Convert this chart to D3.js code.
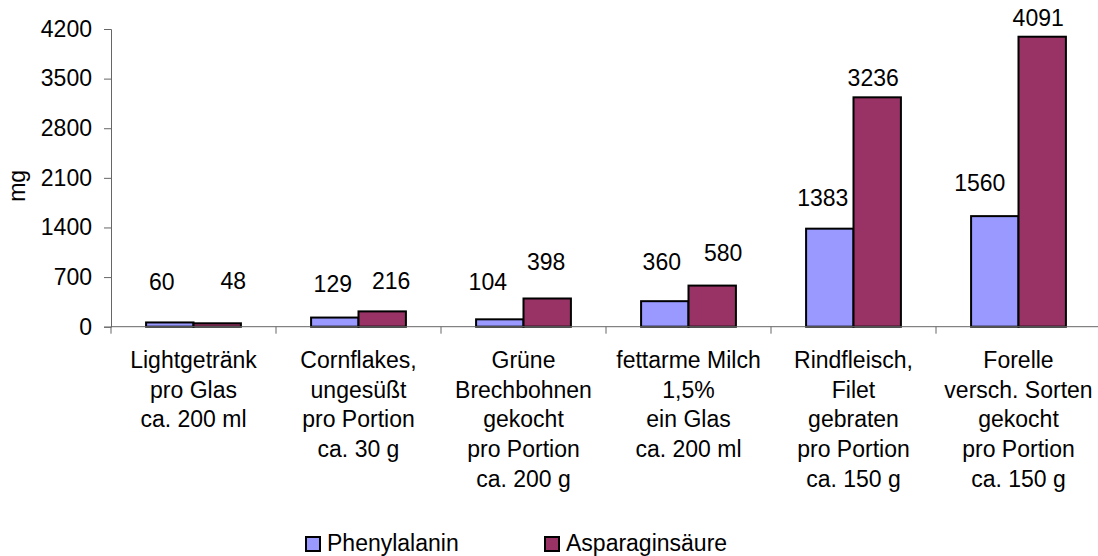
<!DOCTYPE html>
<html>
<head>
<meta charset="utf-8">
<script src="https://cdn.jsdelivr.net/npm/d3@7"></script>
<style>
  body { margin: 0; background: #fff; }
  text { font-family: "Liberation Sans", Arial, sans-serif; fill: #000; }
</style>
</head>
<body>
<svg id="chart" width="1098" height="556"></svg>
<script>
// data
const categories = [
  ["Lightgetränk", "pro Glas", "ca. 200 ml"],
  ["Cornflakes,", "ungesüßt", "pro Portion", "ca. 30 g"],
  ["Grüne", "Brechbohnen", "gekocht", "pro Portion", "ca. 200 g"],
  ["fettarme Milch", "1,5%", "ein Glas", "ca. 200 ml"],
  ["Rindfleisch,", "Filet", "gebraten", "pro Portion", "ca. 150 g"],
  ["Forelle", "versch. Sorten", "gekocht", "pro Portion", "ca. 150 g"]
];
const seriesNames = ["Phenylalanin", "Asparaginsäure"];
const phenylalanin = [60, 129, 104, 360, 1383, 1560];
const asparaginsaeure = [48, 216, 398, 580, 3236, 4091];
const yTicks = [0, 700, 1400, 2100, 2800, 3500, 4200];

// label nudges (the labels in the original were moved by hand)
const labelLift = [[32, 34], [26, 22], [29, 28], [31, 25], [23, 11], [25.5, 10.5]];
const labelShift = [[-8, 16], [-2, 9], [-12, -1], [-3, 11], [-7, -4], [-15, -4]];

const colors = ["#9999FF", "#993366"];
const values = [phenylalanin, asparaginsaeure];

const svg = d3.select("#chart");
const plotLeft = 111, plotRight = 1101, plotTop = 29, plotBottom = 326.7;
const fontSize = 23;

const x0 = d3.scaleBand()
  .domain(d3.range(categories.length))
  .range([plotLeft, plotRight])
  .paddingInner(0).paddingOuter(0);
const x1 = d3.scaleBand()
  .domain(d3.range(seriesNames.length))
  .range([0, x0.bandwidth()])
  .paddingInner(0).paddingOuter(0.74);
const y = d3.scaleLinear().domain([0, 4200]).range([plotBottom, plotTop]);

// y axis
const yAxis = svg.append("g")
  .attr("transform", `translate(${plotLeft},0)`)
  .call(d3.axisLeft(y).tickValues(yTicks).tickFormat(d3.format("d")).tickSize(7).tickPadding(12));
yAxis.select(".domain").attr("stroke", "#666");
yAxis.selectAll(".tick line").attr("stroke", "#666");
yAxis.selectAll(".tick text")
  .style("font-size", fontSize + "px")
  .style("font-family", '"Liberation Sans", Arial, sans-serif')
  .attr("fill", "#000");

svg.append("text")
  .attr("transform", `translate(25,${(plotTop + plotBottom) / 2 + 8}) rotate(-90)`)
  .attr("text-anchor", "middle")
  .style("font-size", fontSize + "px")
  .text("mg");

// bars
const groups = svg.append("g").selectAll("g")
  .data(categories)
  .join("g")
  .attr("transform", (d, i) => `translate(${x0(i)},0)`);

groups.selectAll("rect")
  .data((d, i) => values.map((s, k) => ({ k, v: s[i], i })))
  .join("rect")
  .attr("x", d => x1(d.k))
  .attr("y", d => y(d.v))
  .attr("width", x1.bandwidth())
  .attr("height", d => y(0) - y(d.v))
  .attr("fill", d => colors[d.k])
  .attr("stroke", "#000")
  .attr("stroke-width", 2);

groups.selectAll("text.val")
  .data((d, i) => values.map((s, k) => ({ k, v: s[i], i })))
  .join("text")
  .attr("class", "val")
  .attr("x", d => x1(d.k) + x1.bandwidth() / 2 + labelShift[d.i][d.k])
  .attr("y", d => y(d.v) - labelLift[d.i][d.k])
  .attr("text-anchor", "middle")
  .style("font-size", fontSize + "px")
  .text(d => d.v);

// x axis
svg.append("line")
  .attr("x1", plotLeft).attr("x2", plotRight)
  .attr("y1", y(0)).attr("y2", y(0))
  .attr("stroke", "#666");
const bounds = categories.map((d, i) => x0(i)).concat([plotRight]);
svg.append("g").selectAll("line")
  .data(bounds)
  .join("line")
  .attr("x1", d => d).attr("x2", d => d)
  .attr("y1", y(0)).attr("y2", y(0) + 7)
  .attr("stroke", "#666");

const lineH = 29.7;
svg.append("g").selectAll("text")
  .data(categories)
  .join("text")
  .attr("text-anchor", "middle")
  .style("font-size", fontSize + "px")
  .each(function (lines, i) {
    const t = d3.select(this);
    lines.forEach((ln, j) => {
      t.append("tspan")
        .attr("x", x0(i) + x0.bandwidth() / 2)
        .attr("y", 368 + j * lineH)
        .text(ln);
    });
  });

// legend
const legendX = [306, 545];
const legend = svg.append("g").selectAll("g")
  .data(seriesNames)
  .join("g")
  .attr("transform", (d, i) => `translate(${legendX[i]},537)`);
legend.append("rect")
  .attr("width", 14).attr("height", 14)
  .attr("fill", (d, i) => colors[i])
  .attr("stroke", "#000").attr("stroke-width", 2);
legend.append("text")
  .attr("x", 21).attr("y", 14)
  .style("font-size", fontSize + "px")
  .text(d => d);
</script>
</body>
</html>
